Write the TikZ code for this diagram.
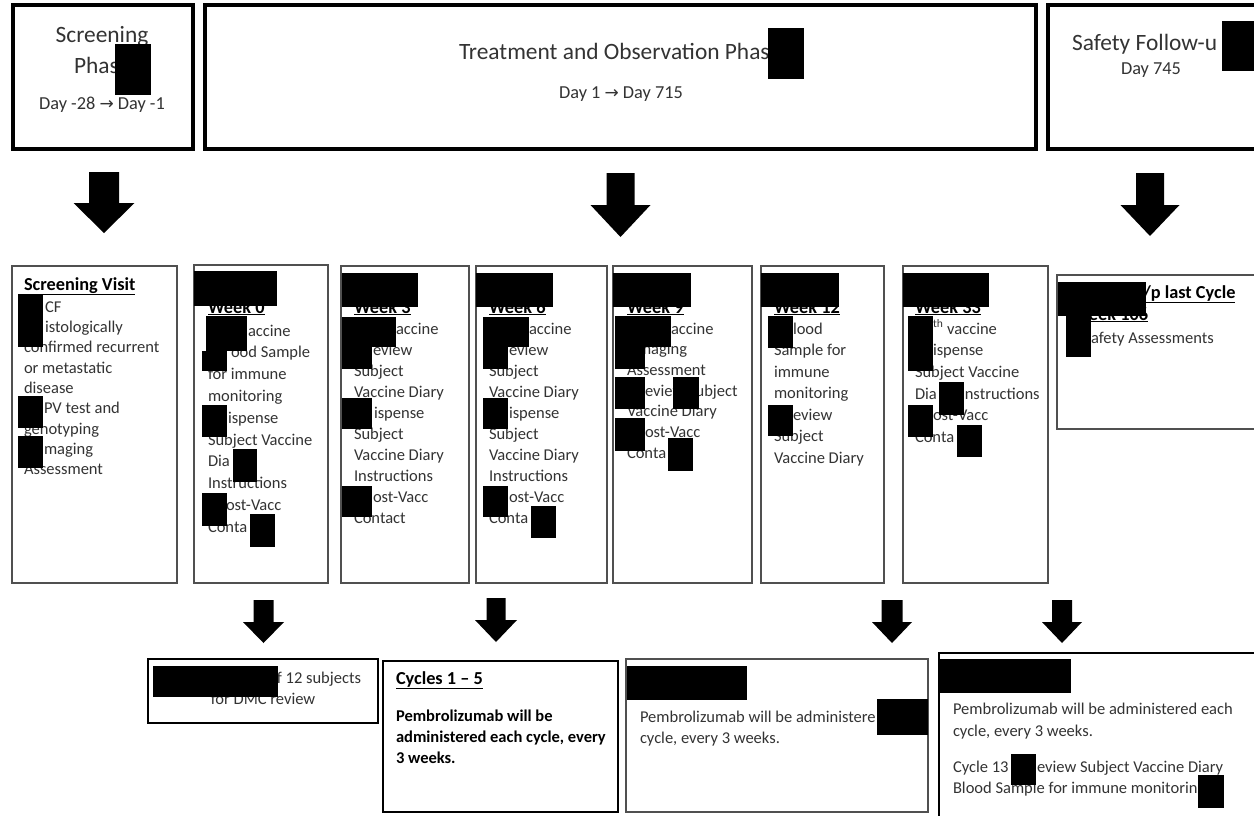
\documentclass[tikz,border=0pt]{standalone}
\usepackage{fontspec}
\setmainfont{Carlito}
\newfontfamily\symfont{DejaVu Sans}
\definecolor{txtgray}{HTML}{333333}
\definecolor{boxgray}{HTML}{505050}
\tikzset{
  thickbox/.style={draw=black, line width=4pt},
  thinbox/.style={draw=boxgray, line width=1.4pt},
  blkbox/.style={draw=black, line width=1.4pt},
  cycbox/.style={draw=black, line width=2pt},
  txt/.style={inner sep=0pt, outer sep=0pt, anchor=base west, text=txtgray, font=\fontsize{16.5}{20.3}\selectfont},
  hd/.style={inner sep=0pt, outer sep=0pt, anchor=base west, text=black, font=\bfseries\fontsize{18.3}{22}\selectfont},
  ttl/.style={inner sep=0pt, outer sep=0pt, text=txtgray, font=\fontsize{23.4}{28}\selectfont},
  sub/.style={inner sep=0pt, outer sep=0pt, anchor=base, text=txtgray, font=\fontsize{18.3}{22}\selectfont},
  redact/.style={fill=black}
}
\newcommand\mkbox[6]{\node[#1, inner sep=0pt, outer sep=0pt, minimum width={(#5)-(#3)}, minimum height={(#6)-(#4)}] (#2) at ({((#3)+(#5))/2},{((#4)+(#6))/2}) {};}
\newcommand\blockarrow[6]{\fill[black] ({#1-#5},#2) -- ({#1+#5},#2) -- ({#1+#5},#3) -- ({#1+#6},#3) -- (#1,#4) -- ({#1-#6},#3) -- ({#1-#5},#3) -- cycle;}
\newcommand\arr{{\symfont\fontsize{17}{17}\selectfont →}}
\begin{document}
\begin{tikzpicture}[x=1pt,y=-1pt]
\useasboundingbox (0,0) rectangle (1254,816);
\fill[white] (0,0) rectangle (1254,816);

% ---------- top phase boxes ----------
\mkbox{thickbox}{scrphase}{13}{5.3}{192.5}{148.5}
\mkbox{thickbox}{trtphase}{205}{5.3}{1036}{148.5}
\mkbox{thickbox}{safphase}{1048}{5.3}{1275}{148.5}

\node[ttl, anchor=base] (t1a) at (102,43) {Screening};
\node[ttl, anchor=base west] (t1b) at (74,74) {Phas};
\node[sub] (t1c) at (102,110) {Day -28 \arr{} Day -1};
\fill[redact] (115,44) rectangle (151,95);

\node[ttl, anchor=base west] (t2a) at (459,60) {Treatment and Observation Phas};
\node[sub] (t2b) at (621,99) {Day 1 \arr{} Day 715};
\fill[redact] (768,28) rectangle (804,79);

\node[ttl, anchor=base west] (t3a) at (1072,51) {Safety Follow-u};
\node[sub] (t3b) at (1151,75) {Day 745};
\fill[redact] (1222,21) rectangle (1260,71);

% ---------- big arrows ----------
\blockarrow{104}{172}{203}{233}{15}{30.5}
\blockarrow{620.5}{173}{205}{237}{14}{30}
\blockarrow{1150}{173}{205}{236}{14}{29.5}

% ---------- middle boxes ----------
\mkbox{thinbox}{scrvisit}{12}{266}{177}{583}
\mkbox{thinbox}{wk0}{194}{265}{328}{583}
\mkbox{thinbox}{wk3}{341}{266}{469}{583}
\mkbox{thinbox}{wk6}{476}{266}{607}{583}
\mkbox{thinbox}{wk9}{613}{266}{752}{583}
\mkbox{thinbox}{wk12}{761}{266}{884}{583}
\mkbox{thinbox}{wk33}{903}{266}{1048}{583}
\mkbox{thinbox}{wk106}{1057}{275}{1275}{429}

% Screening visit
\node[hd] (svh) at (24,290) {\underline{Screening Visit}};
\node[txt] (svt) at (24,312) {\parbox[t]{160pt}{\raggedright\fontsize{16.5}{20.35}\selectfont
\hspace*{21pt}CF\\
\hspace*{21pt}istologically\\
confirmed recurrent\\
or metastatic\\
disease\\
\hspace*{20pt}PV test and\\
genotyping\\
\hspace*{20pt}maging\\
Assessment}};
\fill[redact] (18,294) rectangle (43,347);
\fill[redact] (18,396) rectangle (43,428);
\fill[redact] (18,436) rectangle (43,468);

% Week 0
\node[hd] (w0h) at (208,313) {\underline{Week 0}};
\node[txt] (w0t) at (208,336) {\parbox[t]{130pt}{\raggedright\fontsize{16.5}{21.8}\selectfont
\hspace*{40pt}accine\\
\hspace*{23pt}ood Sample\\
for immune\\
monitoring\\
\hspace*{20pt}ispense\\
Subject Vaccine\\
Dia\\
Instructions\\
\hspace*{18pt}ost-Vacc\\
Conta}};
\fill[redact] (194,271) rectangle (277,306);
\fill[redact] (206,316) rectangle (247,351);
\fill[redact] (202,351) rectangle (227,371);
\fill[redact] (202,405) rectangle (227,437);
\fill[redact] (233,449) rectangle (257,482);
\fill[redact] (202,493) rectangle (227,526);
\fill[redact] (250,514) rectangle (275,547);

% Week 3
\node[hd] (w3h) at (354,313) {\underline{Week 3}};
\node[txt] (w3t) at (354,334.5) {\parbox[t]{120pt}{\raggedright\fontsize{16.5}{21}\selectfont
\hspace*{42pt}accine\\
\hspace*{19pt}eview\\
Subject\\
Vaccine Diary\\
\hspace*{20pt}ispense\\
Subject\\
Vaccine Diary\\
Instructions\\
\hspace*{19pt}ost-Vacc\\
Contact}};
\fill[redact] (342,273) rectangle (418,307);
\fill[redact] (342,317) rectangle (396,347);
\fill[redact] (342,347) rectangle (372,369);
\fill[redact] (342,398) rectangle (372,429);
\fill[redact] (342,486) rectangle (372,517);

% Week 6
\node[hd] (w6h) at (489,313) {\underline{Week 6}};
\node[txt] (w6t) at (489,334.5) {\parbox[t]{120pt}{\raggedright\fontsize{16.5}{21}\selectfont
\hspace*{40pt}accine\\
\hspace*{20pt}eview\\
Subject\\
Vaccine Diary\\
\hspace*{20pt}ispense\\
Subject\\
Vaccine Diary\\
Instructions\\
\hspace*{20pt}ost-Vacc\\
Conta}};
\fill[redact] (476,273) rectangle (553,307);
\fill[redact] (483,317) rectangle (529,347);
\fill[redact] (483,347) rectangle (508,369);
\fill[redact] (483,398) rectangle (508,429);
\fill[redact] (483,486) rectangle (508,517);
\fill[redact] (531,506) rectangle (556,538);

% Week 9
\node[hd] (w9h) at (627,313) {\underline{Week 9}};
\node[txt] (w9t) at (627,334) {\parbox[t]{130pt}{\raggedright\fontsize{16.5}{20.7}\selectfont
\hspace*{44pt}accine\\
\hspace*{11pt}maging\\
Assessment\\
\hspace*{18pt}eview Subject\\
Vaccine Diary\\
\hspace*{18pt}ost-Vacc\\
Conta}};
\fill[redact] (613,273) rectangle (691,307);
\fill[redact] (615,316) rectangle (671,347);
\fill[redact] (615,347) rectangle (645,369);
\fill[redact] (615,377) rectangle (645,409);
\fill[redact] (673,377) rectangle (699,409);
\fill[redact] (615,418) rectangle (645,451);
\fill[redact] (668,438) rectangle (693,471);

% Week 12
\node[hd] (w12h) at (774,313) {\underline{Week 12}};
\node[txt] (w12t) at (774,334) {\parbox[t]{110pt}{\raggedright\fontsize{16.5}{21.5}\selectfont
\hspace*{19pt}lood\\
Sample for\\
immune\\
monitoring\\
\hspace*{19pt}eview\\
Subject\\
Vaccine Diary}};
\fill[redact] (761,273) rectangle (839,307);
\fill[redact] (768,316) rectangle (793,348);
\fill[redact] (768,405) rectangle (793,436);

% Week 33
\node[hd] (w33h) at (915,313) {\underline{Week 33}};
\node[txt] (w33t) at (915,334) {\parbox[t]{130pt}{\raggedright\fontsize{16.5}{21.7}\selectfont
\hspace*{18pt}\textsuperscript{th} vaccine\\
\hspace*{18pt}ispense\\
Subject Vaccine\\
Dia\hspace*{28pt}nstructions\\
\hspace*{18pt}ost-Vacc\\
Conta}};
\fill[redact] (903,273) rectangle (989,307);
\fill[redact] (908,316) rectangle (933,371);
\fill[redact] (939,382) rectangle (964,415);
\fill[redact] (908,405) rectangle (933,437);
\fill[redact] (957,425) rectangle (982,457);

% Week 106
\node[hd] (w106a) at (1143,298) {\underline{/p last Cycle}};
\node[hd] (w106b) at (1073,320) {\underline{Week 106}};
\node[txt] (w106t) at (1091,343) {afety Assessments};
\fill[redact] (1058,282) rectangle (1146,316);
\fill[redact] (1066,316) rectangle (1091,357);

% ---------- small arrows ----------
\blockarrow{263.5}{600}{622}{643}{10}{20.5}
\blockarrow{496}{598}{620}{642}{9.5}{21}
\blockarrow{892}{600}{622}{643}{10.5}{20}
\blockarrow{1062}{600}{622}{643}{10}{20}

% ---------- bottom boxes ----------
\mkbox{blkbox}{dmc}{148}{659}{378}{723}
\mkbox{cycbox}{cyc}{383}{661}{618}{812}
\mkbox{thinbox}{cyc6}{626}{659}{928}{812}
\mkbox{blkbox}{cyc13}{939}{653}{1275}{840}

\node[txt, anchor=base east] (dmc1) at (361,683) {f 12 subjects};
\node[txt, anchor=base] (dmc2) at (263,704) {for DMC review};
\fill[redact] (153,666) rectangle (278,697);

\node[hd] (cych) at (396,684) {\underline{Cycles 1 – 5}};
\node[txt, text=black] (cyct) at (396,721) {\parbox[t]{220pt}{\raggedright\bfseries\fontsize{16.5}{21}\selectfont
Pembrolizumab will be\\
administered each cycle, every\\
3 weeks.}};

\node[txt] (c6t) at (640,722) {\parbox[t]{280pt}{\raggedright\fontsize{16.5}{21}\selectfont
Pembrolizumab will be administere\\
cycle, every 3 weeks.}};
\fill[redact] (627,666) rectangle (747,700);
\fill[redact] (877,699) rectangle (928,735);

\node[txt] (c13t) at (953,714) {\parbox[t]{300pt}{\raggedright\fontsize{16.5}{22}\selectfont
Pembrolizumab will be administered each\\
cycle, every 3 weeks.}};
\node[txt] (c13a) at (953,772) {Cycle 13};
\node[txt] (c13b) at (1037,772) {eview Subject Vaccine Diary};
\node[txt] (c13c) at (953,793) {Blood Sample for immune monitorin};
\fill[redact] (940,659) rectangle (1071,693);
\fill[redact] (1011,754) rectangle (1036,785);
\fill[redact] (1198,775) rectangle (1224,808);
\end{tikzpicture}
\end{document}
